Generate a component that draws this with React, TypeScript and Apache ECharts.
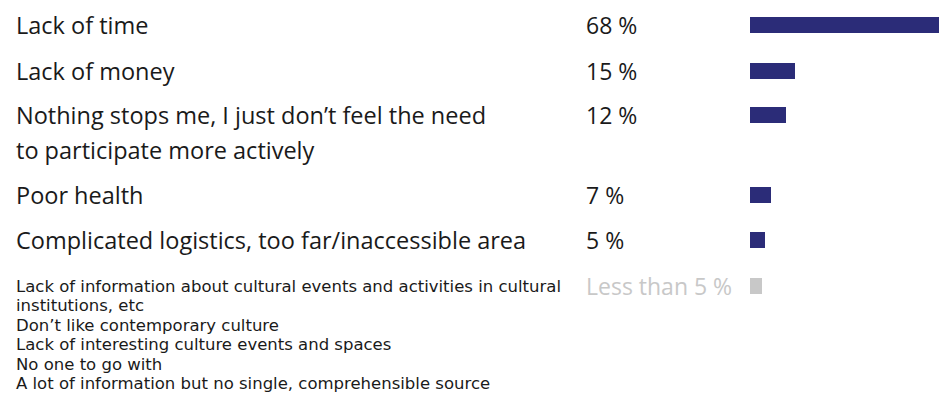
import React, { useEffect, useRef } from "react";
import * as echarts from "echarts";

// ---- data ----
const categories: string[] = [
  "Lack of time",
  "Lack of money",
  "Nothing stops me, I just don\u2019t feel the need\nto participate more actively",
  "Poor health",
  "Complicated logistics, too far/inaccessible area",
  "Other",
];
const otherReasons: string[] = [
  "Lack of information about cultural events and activities in cultural\ninstitutions, etc",
  "Don\u2019t like contemporary culture",
  "Lack of interesting culture events and spaces",
  "No one to go with",
  "A lot of information but no single, comprehensible source",
];
const values: number[] = [68, 15, 12, 7, 5, 4];
const valueLabels: string[] = ["68 %", "15 %", "12 %", "7 %", "5 %", "Less than 5 %"];

// ---- layout ----
const rowCenters = [25, 71, 115, 195, 240, 286];
const FONT = "'Open Sans', sans-serif";
const SMALL_FONT = "'DejaVu Sans', sans-serif";
const NAVY = "#2b2c78";
const GREY = "#c8c8c8";
const TEXT = "#1a1a1a";

export default function App() {
  const ref = useRef<HTMLDivElement>(null);
  useEffect(() => {
    if (!ref.current) return;
    const chart = echarts.init(ref.current, undefined, { renderer: "svg" });
    const grids: any[] = [];
    const xAxes: any[] = [];
    const yAxes: any[] = [];
    const series: any[] = [];
    categories.forEach((cat, i) => {
      const isOther = i === categories.length - 1;
      const labelText = isOther ? otherReasons.join("\n") : cat;
      const lines = labelText.split("\n").length;
      const lh = isOther ? 19.5 : 35;
      // pad with leading empty lines so the first line sits on the bar's centre
      const shown = "\n".repeat(lines - 1) + labelText;
      grids.push({ left: 750, width: 189, top: rowCenters[i] - 20, height: 40 });
      xAxes.push({ gridIndex: i, type: "value", min: 0, max: 63, show: false });
      yAxes.push({
        gridIndex: i,
        type: "category",
        data: [cat],
        axisLine: { show: false },
        axisTick: { show: false },
        splitLine: { show: false },
        axisLabel: {
          margin: 734,
          align: "left",
          verticalAlign: "middle",
          fontFamily: isOther ? SMALL_FONT : FONT,
          fontSize: isOther ? 16.5 : 23.5,
          lineHeight: lh,
          color: TEXT,
          formatter: () => shown,
        },
      });
      series.push({
        type: "bar",
        xAxisIndex: i,
        yAxisIndex: i,
        barWidth: 16,
        clip: true,
        data: [values[i]],
        itemStyle: { color: isOther ? GREY : NAVY },
        label: {
          show: true,
          position: "insideLeft",
          distance: 0,
          offset: [-164, 0],
          formatter: () => valueLabels[i],
          fontFamily: FONT,
          fontSize: 23,
          color: isOther ? GREY : TEXT,
        },
      });
    });
    chart.setOption({
      animation: false,
      backgroundColor: "#ffffff",
      grid: grids,
      xAxis: xAxes,
      yAxis: yAxes,
      series,
    });
    return () => chart.dispose();
  }, []);
  return (
    <div
      ref={ref}
      style={{ position: "absolute", left: 0, top: 0, width: 939, height: 408 }}
    />
  );
}
